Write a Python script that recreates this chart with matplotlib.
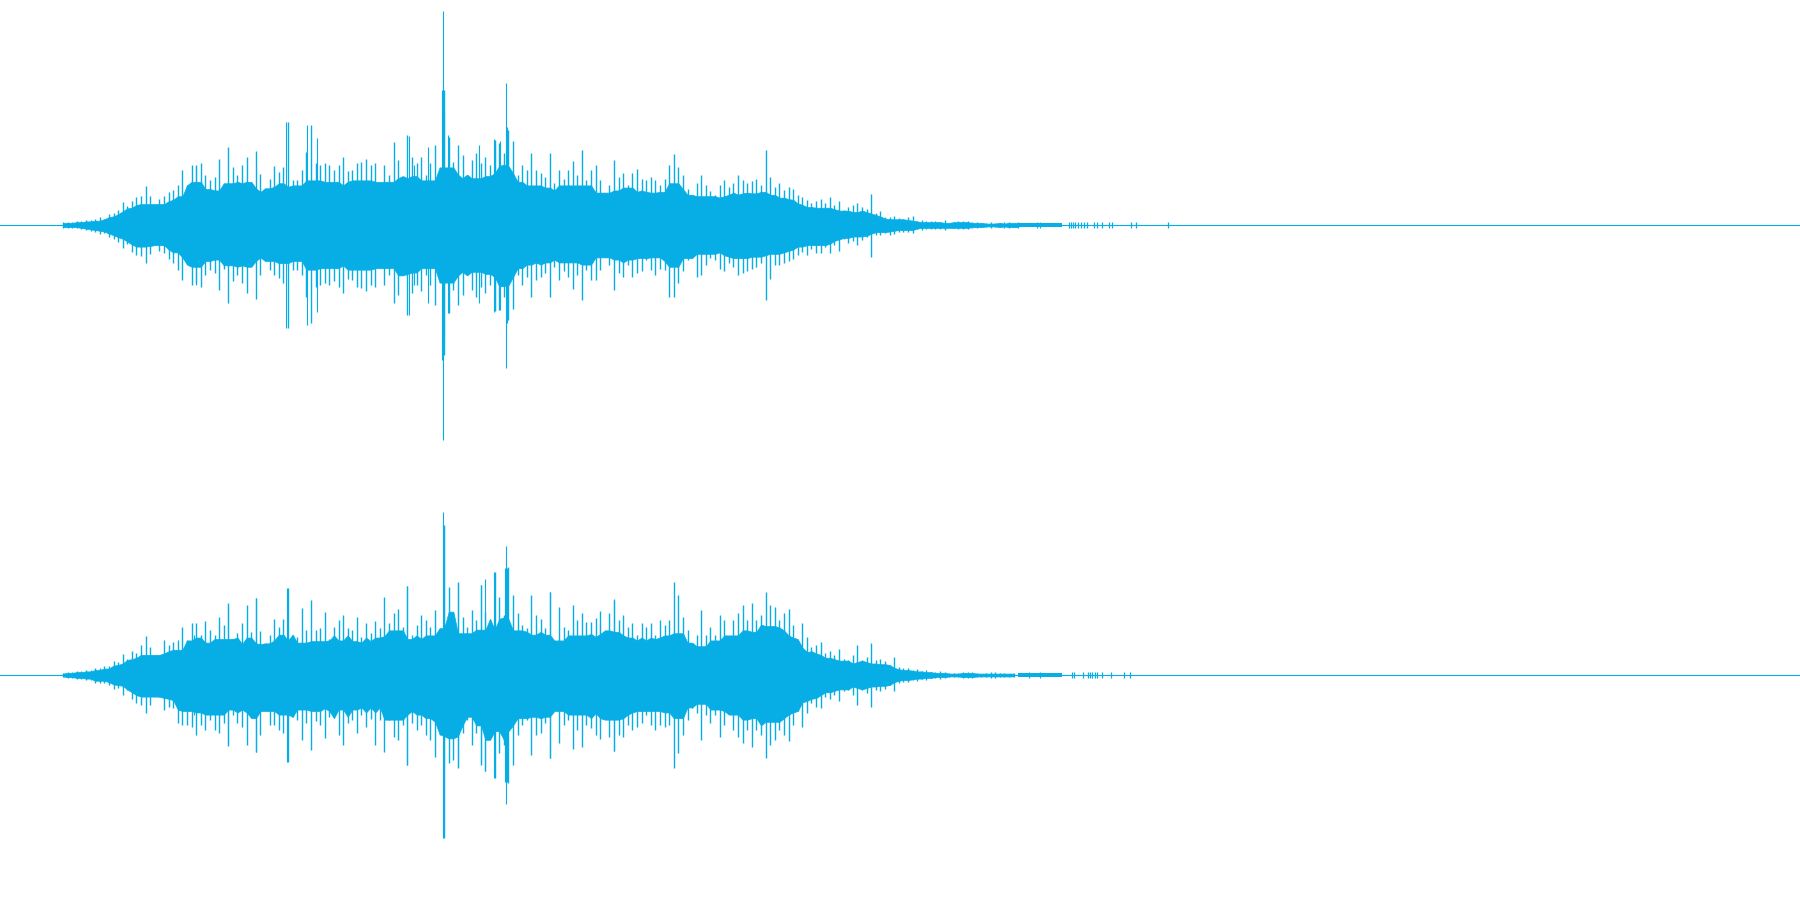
import matplotlib
matplotlib.use('Agg')
import matplotlib.pyplot as plt
import numpy as np

# peak level per column, one list each for the upper and lower side of a channel
ch1_up = [3,3,3,4,4,5,5,6,8,6,11,12,15,23,19,24,28,29,39,29,17,26,29,33,35,
    40,55,40,60,60,62,50,45,48,66,34,78,58,50,60,68,40,74,51,29,46,59,53,58,103,
    45,45,55,73,100,62,60,62,60,55,60,68,54,55,62,63,66,60,62,25,60,50,83,65,48,
    90,68,62,68,50,62,80,37,135,88,63,80,70,50,65,72,62,68,60,85,82,72,95,84,50,
    60,55,72,55,52,48,72,42,55,46,55,64,50,75,45,55,60,45,30,40,65,48,52,40,52,
    56,46,45,48,45,40,46,60,71,58,50,36,30,42,50,40,34,30,40,45,38,42,50,45,42,
    44,46,40,75,48,38,42,35,38,36,30,28,25,22,24,26,22,28,20,24,15,18,20,22,18,
    16,31,12,14,8,8,9,7,6,8,9,4,5,4,4,4,3,5,2,3,4,4,4,3,3,2,2,3,2,2,3,3,1.5,3]
ch1_down = [3,3,3,3,4,5,6,7,9,8,12,14,17,23,19,27,30,31,38,29,16,26,28,34,38,
    45,55,38,60,58,62,50,45,48,65,44,78,56,50,58,68,40,74,50,33,45,50,53,58,103,
    45,45,50,72,98,62,60,58,60,56,62,68,54,55,62,63,66,60,62,22,60,50,78,70,48,
    90,68,60,66,50,60,80,35,130,88,65,80,70,50,65,72,62,68,60,86,85,72,95,84,50,
    60,52,72,55,52,48,72,42,55,46,52,64,50,75,45,55,55,45,30,40,65,48,52,40,52,
    48,46,35,45,50,44,45,72,72,58,46,35,30,52,50,40,33,35,44,46,38,42,50,48,46,
    44,42,38,75,54,40,40,38,36,34,30,27,30,24,28,28,22,28,20,26,14,18,16,20,15,
    12,32,10,10,8,10,9,7,7,7,8,4,5,4,4,4,4,5,2,3,4,4,4,3,3,2,2,3,2,2,3,3,1.5,3]
ch2_up = [2,3,3,4,4,5,5,7,7,9,9,14,13,21,16,24,22,30,39,28,17,20,35,30,33,
    35,48,35,52,52,40,54,45,40,58,50,72,36,42,52,70,43,77,44,29,40,56,48,56,87,
    40,38,67,45,75,45,47,63,36,48,55,60,47,45,58,38,52,42,54,47,78,52,62,66,48,
    89,40,50,60,55,48,65,40,150,88,55,93,58,48,65,55,90,63,55,103,78,60,108,80,62,
    50,47,80,60,56,47,83,30,68,48,45,70,55,62,53,53,57,64,40,62,75,55,60,48,52,
    40,52,48,52,40,55,50,55,93,80,58,45,30,40,65,40,48,40,60,55,38,55,62,70,55,
    72,55,60,83,70,68,55,62,66,50,32,52,38,28,30,33,22,24,20,26,16,15,20,30,15,
    18,32,15,16,14,10,18,8,7,7,5,6,4,5,3,3,4,3,2,2,2,3,3,3,2,1.5,2,3,3,2,2,1.5,2]
ch2_down = [2,3,3,4,4,5,5,8,8,8,10,14,13,20,15,24,28,30,38,30,14,22,35,32,33,
    48,50,50,52,60,50,55,45,55,58,48,71,40,48,52,70,40,77,60,30,50,50,55,58,87,
    42,45,65,48,75,46,50,63,42,42,60,70,48,45,58,40,52,44,70,45,77,45,62,65,50,
    90,48,55,50,60,65,82,60,163,88,85,93,58,45,70,58,90,96,62,103,78,70,108,90,60,
    50,45,80,60,58,48,83,35,68,50,45,74,55,72,50,53,60,64,40,62,76,60,62,50,55,
    52,48,40,50,55,50,52,50,93,78,60,45,33,38,65,40,48,40,62,50,38,55,62,68,55,
    72,55,60,83,70,65,55,60,66,50,36,52,38,28,32,33,22,24,20,26,16,15,20,30,15,
    18,32,15,16,14,10,16,8,7,7,5,6,4,5,3,3,4,3,2,2,2,3,3,3,2,1.5,2,3,3,2,2,1.5,2]

# tallest single transients, listed apart: position, up, down
ch1_spike_x = [196,286,307,317,409,428,443,442,444,448,494,506,507,500,495,479,414]
ch1_spike_up = [59,103,100,87,89,78,214,135,112,90,86,142,98,84,80,80,60]
ch1_spike_down = [60,103,100,87,90,78,215,135,113,88,87,143,98,85,85,78,60]
ch2_spike_x = [194,287,228,256,407,443,444,506,505,507,494,485,458,481,550,614,600]
ch2_spike_up = [40,87,69,77,89,163,148,129,107,107,103,96,92,90,83,76,50]
ch2_spike_down = [40,87,69,77,90,163,90,129,107,107,103,96,92,88,83,76,50]

# faint end of the sound
ch1_tail_x = [1037,1040,1069,1071,1073,1075,1078,1081,1084,1087,1094,1097,1102,1109,1112,1131,1136,1168]
ch2_tail_x = [1029,1040,1072,1074,1083,1088,1090,1092,1095,1097,1102,1111,1124,1130]
tail_level = [1.6, 2.6]

col = '#06aee5'


def core(vals):
    # solid part under the peaks, a bit below the local median
    v = np.array(vals, dtype=float)
    rows = [np.roll(v, k) for k in (-2, -1, 0, 1, 2)]
    return np.median(rows, axis=0) * 0.72


def draw_channel(ax, up, down, spike_x, spike_up, spike_down, tail_x):
    x = 63 + 4.592 * np.arange(len(up))
    ax.fill_between(x, core(up), -core(down), color=col, lw=0.5)
    ax.vlines(x, -np.array(down), up, color=col, lw=1.0)
    ax.vlines(spike_x, -np.array(spike_down), spike_up, color=col, lw=0.8)
    ax.fill_between([1018, 1062], -tail_level[0], tail_level[0], color=col, lw=0)
    ax.vlines(tail_x, -tail_level[1], tail_level[1], color=col, lw=0.9)
    ax.axhline(0, color=col, lw=0.8)
    ax.set_xlim(0, 1800)
    ax.set_ylim(-225, 225)
    ax.axis('off')


fig, (ax1, ax2) = plt.subplots(2, 1, figsize=(18, 9), dpi=100)
fig.subplots_adjust(left=0, right=1, top=1, bottom=0, hspace=0)
draw_channel(ax1, ch1_up, ch1_down, ch1_spike_x, ch1_spike_up, ch1_spike_down, ch1_tail_x)
draw_channel(ax2, ch2_up, ch2_down, ch2_spike_x, ch2_spike_up, ch2_spike_down, ch2_tail_x)
fig.savefig('out.png', dpi=100, facecolor='white')
